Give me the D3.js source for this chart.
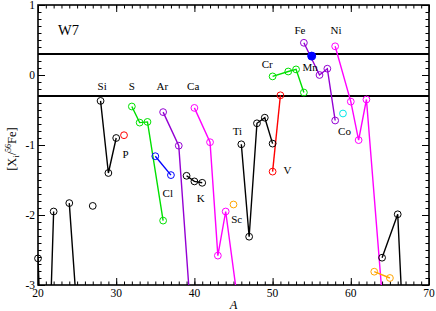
<!DOCTYPE html>
<html>
<head>
<meta charset="utf-8">
<script src="https://cdn.jsdelivr.net/npm/d3@7"></script>
<style>
  body { margin: 0; background: #fff; }
  svg { display: block; }
</style>
</head>
<body>
<svg id="chart" width="436" height="311"></svg>
<script>
// [A, value] per isotope, one array per element
const Ne = [[20, -2.62], [21, -5.5], [22, -1.95]];
const Mg = [[24, -1.83], [25, -3.41], [26, -3.5]];
const Al = [[27, -1.87]];
const Si = [[28, -0.37], [29, -1.40], [30, -0.90]];
const P  = [[31, -0.86]];
const S  = [[32, -0.45], [33, -0.68], [34, -0.67], [36, -2.08]];
const Cl = [[35, -1.16], [37, -1.43]];
const Ar = [[36, -0.53], [38, -1.01], [40, -4.14]];
const K  = [[39, -1.44], [40, -1.52], [41, -1.54]];
const Ca = [[40, -0.47], [42, -0.96], [43, -2.58], [44, -1.95], [46, -3.62], [48, -3.7]];
const Sc = [[45, -1.85]];
const Ti = [[46, -0.99], [47, -2.31], [48, -0.69], [49, -0.61], [50, -0.98]];
const V  = [[50, -1.38], [51, -0.29]];
const Cr = [[50, -0.02], [52, 0.05], [53, 0.08], [54, -0.25]];
const Mn = [[55, 0.27]];
const Fe = [[54, 0.46], [56, 0.0], [57, 0.09], [58, -0.65]];
const Co = [[59, -0.55]];
const Ni = [[58, 0.41], [60, -0.38], [61, -0.93], [62, -0.35], [64, -3.14]];
const Cu = [[63, -2.81], [65, -2.90]];
const Zn = [[64, -2.61], [66, -1.99], [67, -4.35], [68, -4.0], [70, -4.5]];

const refLines = [0.3, -0.3];
const xTicks = [20, 30, 40, 50, 60, 70];
const yTicks = [1, 0, -1, -2, -3];

const series = [
  {d: Ne, c: "#000"}, {d: Mg, c: "#000"}, {d: Al, c: "#000"},
  {d: Si, c: "#000"}, {d: P, c: "#ff0000"}, {d: S, c: "#00e000"},
  {d: Cl, c: "#0000ff"}, {d: Ar, c: "#9400d3"}, {d: K, c: "#000"},
  {d: Ca, c: "#ff00ff"}, {d: Sc, c: "#ffa500"}, {d: Ti, c: "#000"},
  {d: V, c: "#ff0000"}, {d: Cr, c: "#00e000"}, {d: Fe, c: "#9400d3"},
  {d: Co, c: "#00e8e8"}, {d: Ni, c: "#ff00ff"}, {d: Cu, c: "#ffa500"},
  {d: Zn, c: "#000"}, {d: Mn, c: "#0000ff", filled: true}
];

// element labels: name and baseline point in data units
const labels = [
  ["Si", 28.2, -0.21], ["S", 32.0, -0.21], ["Ar", 35.9, -0.21], ["Ca", 39.85, -0.21],
  ["P", 31.2, -1.19], ["Cl", 36.6, -1.74], ["K", 40.8, -1.82], ["Sc", 45.4, -2.12],
  ["Ti", 45.5, -0.86], ["V", 51.9, -1.42], ["Cr", 49.3, 0.105], ["Mn", 54.8, 0.057],
  ["Fe", 53.5, 0.58], ["Ni", 58.1, 0.58], ["Co", 59.2, -0.86]
];

const width = 436, height = 311;
const margin = {top: 5, right: 7, bottom: 26, left: 38};
const svg = d3.select("#chart")
  .attr("font-family", "'Liberation Serif', 'Times New Roman', Times, serif");

const x = d3.scaleLinear().domain([20, 70]).range([margin.left, width - margin.right]);
const y = d3.scaleLinear().domain([-3, 1]).range([height - margin.bottom, margin.top]);

svg.append("clipPath").attr("id", "plot")
  .append("rect")
  .attr("x", x(20)).attr("y", y(1))
  .attr("width", x(70) - x(20)).attr("height", y(-3) - y(1));

// ticks, all inward
function ticks(axis, values, size, tx, ty) {
  const g = svg.append("g").attr("transform", "translate(" + tx + "," + ty + ")")
    .call(axis.tickValues(values).tickSize(-size).tickFormat(""));
  g.select(".domain").remove();
  g.selectAll("line").attr("stroke", "#000").attr("stroke-width", 1);
  return g;
}
const minorX = d3.range(20, 71, 1), minorY = d3.range(-30, 11, 1).map(d => d / 10);
ticks(d3.axisBottom(x), minorX, 3.5, 0, y(-3));
ticks(d3.axisBottom(x), xTicks, 7, 0, y(-3));
ticks(d3.axisTop(x), minorX, 3.5, 0, y(1));
ticks(d3.axisTop(x), xTicks, 7, 0, y(1));
ticks(d3.axisLeft(y), minorY, 3.5, x(20), 0);
ticks(d3.axisLeft(y), yTicks, 7, x(20), 0);
ticks(d3.axisRight(y), minorY, 3.5, x(70), 0);
ticks(d3.axisRight(y), yTicks, 7, x(70), 0);

// tick labels
svg.append("g").selectAll("text").data(xTicks).join("text")
  .attr("x", d => x(d)).attr("y", y(-3) + 12)
  .attr("text-anchor", "middle").attr("font-size", 11.5)
  .text(d => String(d));
svg.append("g").selectAll("text").data(yTicks).join("text")
  .attr("x", x(20) - 3).attr("y", d => y(d)).attr("dy", "0.35em")
  .attr("text-anchor", "end").attr("font-size", 11.5)
  .text(d => String(d));

// frame
svg.append("rect")
  .attr("x", x(20)).attr("y", y(1))
  .attr("width", x(70) - x(20)).attr("height", y(-3) - y(1))
  .attr("fill", "none").attr("stroke", "#000").attr("stroke-width", 1.6);

// reference lines
svg.append("g").selectAll("line").data(refLines).join("line")
  .attr("x1", x(20)).attr("x2", x(70))
  .attr("y1", d => y(d)).attr("y2", d => y(d))
  .attr("stroke", "#000").attr("stroke-width", 1.8);

const plot = svg.append("g").attr("clip-path", "url(#plot)");
const line = d3.line().x(d => x(d[0])).y(d => y(d[1]));
const inside = d => d[0] >= 20 && d[0] <= 70 && d[1] >= -3 && d[1] <= 1;

series.forEach(s => {
  if (s.d.length > 1) {
    plot.append("path").datum(s.d)
      .attr("d", line)
      .attr("fill", "none").attr("stroke", s.c).attr("stroke-width", 1.4);
  }
  svg.append("g").selectAll("circle").data(s.d.filter(inside)).join("circle")
    .attr("cx", d => x(d[0])).attr("cy", d => y(d[1]))
    .attr("r", s.filled ? 4 : 3.4)
    .attr("fill", s.filled ? s.c : "none")
    .attr("stroke", s.c).attr("stroke-width", 1);
});

// element labels
svg.append("g").selectAll("text").data(labels).join("text")
  .attr("x", d => x(d[1])).attr("y", d => y(d[2]))
  .attr("text-anchor", "middle").attr("font-size", 11)
  .text(d => d[0]);

svg.append("text")
  .attr("x", x(23.9)).attr("y", y(0.573))
  .attr("text-anchor", "middle").attr("font-size", 14.5)
  .text("W7");

// axis titles
svg.append("text")
  .attr("x", (x(20) + x(70)) / 2).attr("y", height - 2)
  .attr("text-anchor", "middle").attr("font-size", 12.5).attr("font-style", "italic")
  .text("A");

const yl = svg.append("text")
  .attr("transform", "translate(16," + (y(-1) + 4) + ") rotate(-90)")
  .attr("text-anchor", "middle").attr("font-size", 12.5);
yl.append("tspan").text("[X");
yl.append("tspan").attr("font-size", 8).attr("baseline-shift", "-3").text("i");
yl.append("tspan").text("/");
yl.append("tspan").attr("font-size", 8).attr("baseline-shift", "5").text("56");
yl.append("tspan").text("Fe]");
</script>
</body>
</html>
